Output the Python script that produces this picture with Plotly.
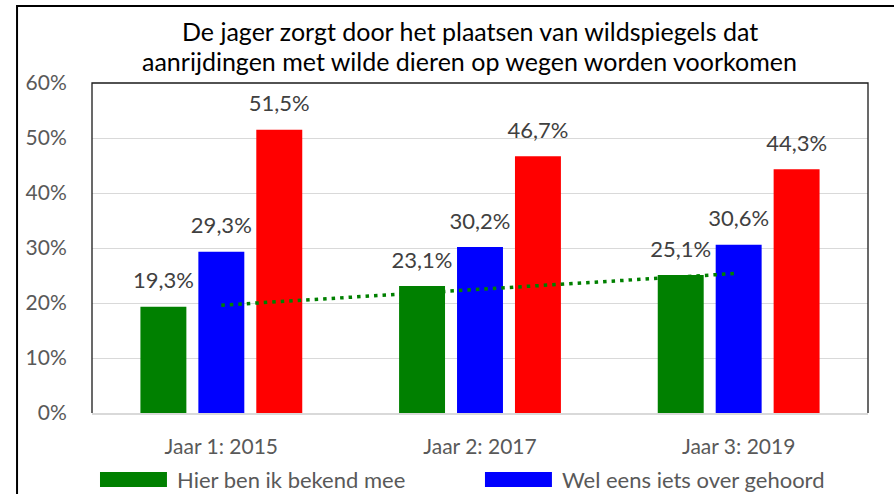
import numpy as np
import plotly.graph_objects as go

# ---- data ----
categories = ["Jaar 1: 2015", "Jaar 2: 2017", "Jaar 3: 2019"]
series_names = ["Hier ben ik bekend mee", "Wel eens iets over gehoord", "Nog nooit van gehoord"]
green_vals = [19.3, 23.1, 25.1]
blue_vals = [29.3, 30.2, 30.6]
red_vals = [51.5, 46.7, 44.3]
y_ticks = [0, 10, 20, 30, 40, 50, 60]
y_tick_labels = [f"{t}%" for t in y_ticks]
title_lines = ["De jager zorgt door het plaatsen van wildspiegels dat",
               "aanrijdingen met wilde dieren op wegen worden voorkomen"]

colors = ["#008000", "#0000FF", "#FF0000"]
all_vals = [green_vals, blue_vals, red_vals]

FONT = "Lato"
BARGAP = 0.328
BARGROUPGAP = 0.207
n_series = len(all_vals)
slot = (1 - BARGAP) / n_series
xs = np.arange(len(categories))

fig = go.Figure()
for name, vals, col in zip(series_names, all_vals, colors):
    fig.add_trace(go.Bar(x=xs, y=vals, name=name, marker=dict(color=col, line=dict(width=0)),
                         showlegend=False, hoverinfo="skip"))

# data labels, aligned with grouped bar centres
for s, vals in enumerate(all_vals):
    offs = (s - (n_series - 1) / 2) * slot
    fig.add_trace(go.Scatter(
        x=xs + offs, y=vals, mode="markers+text",
        text=[f"{v:.1f}".replace(".", ",") + "%" for v in vals],
        textposition="top center",
        textfont=dict(family=FONT, size=22, color="#404040"),
        marker=dict(size=19, opacity=0),
        showlegend=False, hoverinfo="skip", cliponaxis=False))

# linear trendline of the first series
coef = np.polyfit(xs, green_vals, 1)
trend = np.polyval(coef, xs)
fig.add_trace(go.Scatter(x=xs, y=trend, mode="lines",
                         line=dict(color="#008000", width=3.5, dash="3.5px,5px"),
                         showlegend=False, hoverinfo="skip"))

shapes = []
# outer chart border (extends past the visible window at right and bottom)
shapes.append(dict(type="rect", xref="paper", yref="paper", x0=-0.0966, x1=1.3, y0=-0.6, y1=1.2333,
                   line=dict(color="#000000", width=2), fillcolor="rgba(0,0,0,0)", layer="above"))
# plot area frame (left, top, right)
shapes.append(dict(type="path", xref="paper", yref="paper", path="M0,0 L0,1 L1,1 L1,0",
                   line=dict(color="#1a1a1a", width=1.3), layer="above"))

annotations = []
title_y = [1.158, 1.067]
for line, ty in zip(title_lines, title_y):
    annotations.append(dict(text=line, xref="paper", yref="paper",
                            x=0.487, y=ty, xanchor="center", yanchor="middle", showarrow=False,
                            font=dict(family=FONT, size=25, color="#000000")))

# legend (first two entries visible, as in the cropped original)
legend_x = [0.0103, 0.5064]
for i in range(2):
    shapes.append(dict(type="rect", xref="paper", yref="paper",
                       x0=legend_x[i], x1=legend_x[i] + 0.0863, y0=-0.2242, y1=-0.1788,
                       line=dict(width=0), fillcolor=colors[i]))
    annotations.append(dict(text=series_names[i], xref="paper", yref="paper",
                            x=legend_x[i] + 0.0967, y=-0.2015, xanchor="left", yanchor="middle",
                            showarrow=False, font=dict(family=FONT, size=22, color="#595959")))

fig.update_layout(
    width=894, height=494,
    margin=dict(l=92, r=26, t=83, b=81),
    paper_bgcolor="white", plot_bgcolor="white",
    barmode="group", bargap=BARGAP, bargroupgap=BARGROUPGAP,
    showlegend=False,
    shapes=shapes, annotations=annotations,
    xaxis=dict(tickmode="array", tickvals=list(xs), ticktext=categories, range=[-0.5, 2.5],
               showgrid=False, zeroline=False, showline=True, linecolor="#d9d9d9", linewidth=1.5,
               ticks="outside", ticklen=14, tickcolor="rgba(0,0,0,0)",
               tickfont=dict(family=FONT, size=21, color="#595959"), fixedrange=True),
    yaxis=dict(range=[0, 60], tickmode="array", tickvals=y_ticks, ticktext=y_tick_labels,
               showgrid=True, gridcolor="#d9d9d9",
               gridwidth=1, zeroline=False, showline=False,
               ticks="outside", ticklen=20, tickcolor="rgba(0,0,0,0)",
               tickfont=dict(family=FONT, size=21, color="#595959"), fixedrange=True),
)

fig.write_html("out.html", config={"displayModeBar": False, "staticPlot": True},
               post_script="document.body.style.margin='0';document.body.style.overflow='hidden';")
